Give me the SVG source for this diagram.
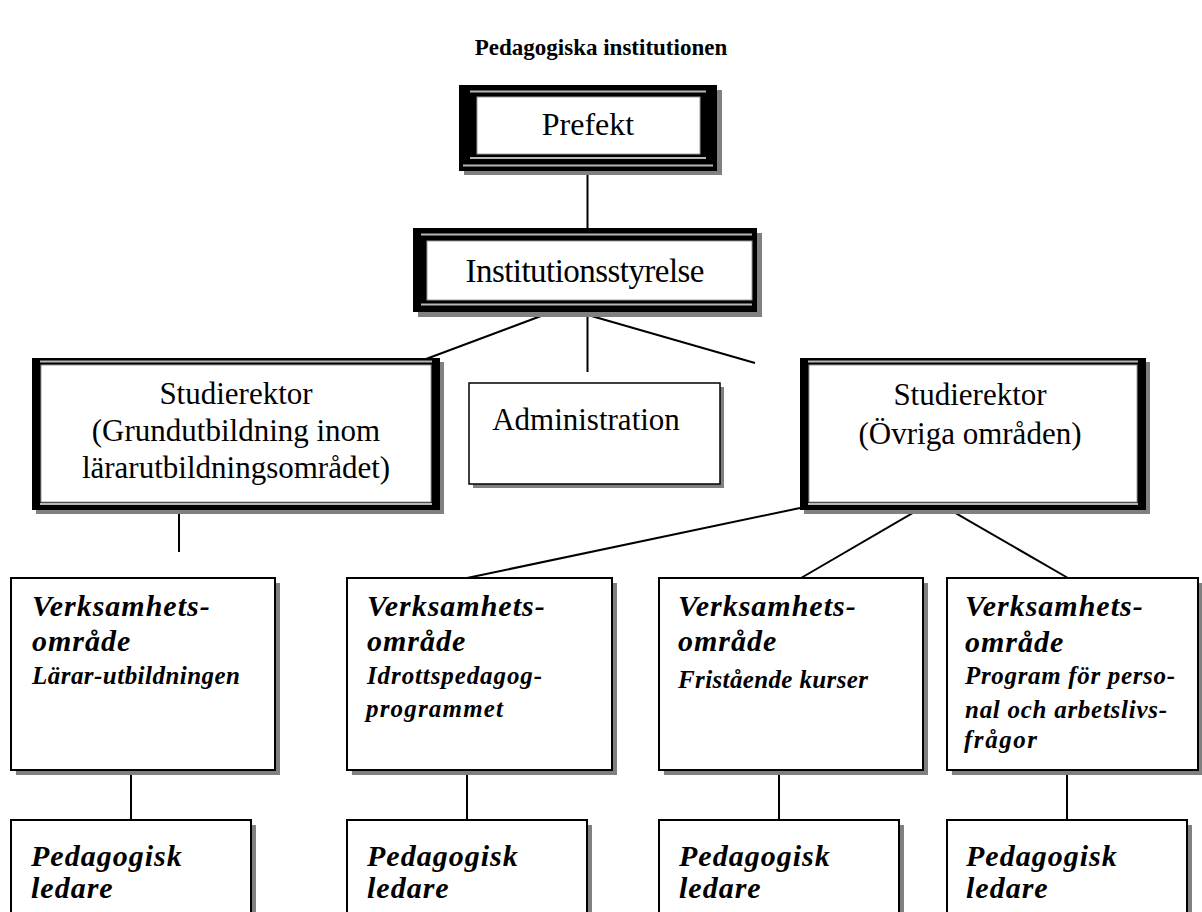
<svg xmlns="http://www.w3.org/2000/svg" width="1202" height="912" viewBox="0 0 1202 912">
  <style>
    .serif { font-family: "Liberation Serif", "Times New Roman", serif; fill: #000; }
    .title { font-size: 23px; font-weight: bold; }
    .reg { font-size: 31px; }
    .head { font-size: 30px; font-weight: bold; font-style: italic; letter-spacing: 1px; }
    .sub { font-size: 25px; font-weight: bold; font-style: italic; }
    .shadow { fill: #808080; }
    .frame { fill: #000; }
    .inner { fill: #fff; stroke: #9a9a9a; stroke-width: 1; }
    .rule { stroke: #b8b8b8; stroke-width: 2; }
    .box { fill: #fff; stroke: #000; stroke-width: 2; }
    .plain { fill: #fff; stroke: #000; stroke-width: 1.5; }
    .conn line { stroke: #000; stroke-width: 2; }
  </style>

  <text class="serif title" x="601" y="55" text-anchor="middle">Pedagogiska institutionen</text>

  <!-- connectors -->
  <g id="connectors" class="conn">
    <line x1="587.5" y1="171" x2="587.5" y2="228"/>
    <line x1="549" y1="313" x2="418" y2="362"/>
    <line x1="587.5" y1="313" x2="587.5" y2="372"/>
    <line x1="588" y1="315" x2="755" y2="363"/>
    <line x1="179" y1="510" x2="179" y2="552"/>
    <line x1="800" y1="508" x2="467" y2="578"/>
    <line x1="923" y1="507" x2="801" y2="578"/>
    <line x1="945" y1="507" x2="1068" y2="578"/>
    <line x1="131" y1="770" x2="131" y2="820"/>
    <line x1="467" y1="770" x2="467" y2="820"/>
    <line x1="779" y1="770" x2="779" y2="820"/>
    <line x1="1067" y1="770" x2="1067" y2="820"/>
  </g>

  <!-- Prefekt -->
  <g id="prefekt">
    <rect class="shadow" x="464" y="90" width="258" height="85"/>
    <rect class="frame" x="459" y="85" width="258" height="86"/>
    <rect class="inner" x="477" y="97" width="223" height="57"/>
    <line class="rule" x1="470" y1="91.5" x2="706" y2="91.5"/>
    <line class="rule" x1="470" y1="158" x2="706" y2="158"/>
    <line class="rule" x1="463" y1="165.5" x2="713" y2="165.5"/>
    <text class="serif" font-size="32" x="588" y="135" text-anchor="middle">Prefekt</text>
  </g>

  <!-- Institutionsstyrelse -->
  <g id="institutionsstyrelse">
    <rect class="shadow" x="418" y="233" width="344" height="84"/>
    <rect class="frame" x="413" y="228" width="344" height="84"/>
    <rect class="inner" x="427" y="241" width="325" height="59"/>
    <line class="rule" x1="421" y1="234.5" x2="752" y2="234.5"/>
    <line class="rule" x1="421" y1="304.5" x2="752" y2="304.5"/>
    <text class="serif" font-size="33" x="585" y="282" text-anchor="middle" textLength="239" lengthAdjust="spacing">Institutionsstyrelse</text>
  </g>

  <!-- Studierektor, grundutbildning -->
  <g id="studierektor-grund">
    <rect class="shadow" x="36" y="362" width="408" height="152"/>
    <rect class="frame" x="32" y="358" width="408" height="152"/>
    <rect class="inner" x="41" y="365" width="390" height="137"/>
    <line class="rule" x1="40" y1="361.5" x2="432" y2="361.5"/>
    <line class="rule" x1="40" y1="504" x2="432" y2="504"/>
    <text class="serif reg" x="236" y="404" text-anchor="middle">Studierektor</text>
    <text class="serif reg" x="236" y="441" text-anchor="middle">(Grundutbildning inom</text>
    <text class="serif reg" x="236" y="478" text-anchor="middle">lärarutbildningsområdet)</text>
  </g>

  <!-- Administration -->
  <g id="administration">
    <rect class="shadow" x="473" y="387" width="251" height="101"/>
    <rect class="plain" x="469" y="383" width="251" height="101"/>
    <text class="serif reg" x="586" y="430" text-anchor="middle">Administration</text>
  </g>

  <!-- Studierektor, övriga områden -->
  <g id="studierektor-ovriga">
    <rect class="shadow" x="804" y="362" width="346" height="152"/>
    <rect class="frame" x="800" y="358" width="346" height="152"/>
    <rect class="inner" x="809" y="365" width="328" height="137"/>
    <line class="rule" x1="808" y1="361.5" x2="1138" y2="361.5"/>
    <line class="rule" x1="808" y1="504" x2="1138" y2="504"/>
    <text class="serif reg" x="970" y="405" text-anchor="middle">Studierektor</text>
    <text class="serif reg" x="970" y="444" text-anchor="middle">(Övriga områden)</text>
  </g>

  <!-- Verksamhetsområden -->
  <g id="vo-lararutbildningen">
    <rect class="shadow" x="16" y="583" width="264" height="192"/>
    <rect class="box" x="11" y="578" width="264" height="192"/>
    <text class="serif head" x="32" y="616">Verksamhets-</text>
    <text class="serif head" x="32" y="651">område</text>
    <text class="serif sub" x="32" y="684" textLength="208" lengthAdjust="spacing">Lärar-utbildningen</text>
  </g>

  <g id="vo-idrottspedagog">
    <rect class="shadow" x="352" y="583" width="265" height="192"/>
    <rect class="box" x="347" y="578" width="265" height="192"/>
    <text class="serif head" x="367" y="616">Verksamhets-</text>
    <text class="serif head" x="367" y="651">område</text>
    <text class="serif sub" x="367" y="684" textLength="175" lengthAdjust="spacing">Idrottspedagog-</text>
    <text class="serif sub" x="366" y="717" textLength="137" lengthAdjust="spacing">programmet</text>
  </g>

  <g id="vo-fristaende">
    <rect class="shadow" x="664" y="583" width="264" height="192"/>
    <rect class="box" x="659" y="578" width="264" height="192"/>
    <text class="serif head" x="678" y="616">Verksamhets-</text>
    <text class="serif head" x="678" y="651">område</text>
    <text class="serif sub" x="678" y="688" textLength="190" lengthAdjust="spacing">Fristående kurser</text>
  </g>

  <g id="vo-personal">
    <rect class="shadow" x="952" y="583" width="251" height="192"/>
    <rect class="box" x="947" y="578" width="251" height="192"/>
    <text class="serif head" x="965" y="616">Verksamhets-</text>
    <text class="serif head" x="965" y="652">område</text>
    <text class="serif sub" x="965" y="684" textLength="210" lengthAdjust="spacing">Program för perso-</text>
    <text class="serif sub" x="965" y="718" textLength="202" lengthAdjust="spacing">nal och arbetslivs-</text>
    <text class="serif sub" x="964" y="748" textLength="73" lengthAdjust="spacing">frågor</text>
  </g>

  <!-- Pedagogiska ledare -->
  <g id="pl-1">
    <rect class="shadow" x="16" y="825" width="240" height="100"/>
    <rect class="box" x="11" y="820" width="240" height="100"/>
    <text class="serif head" x="31" y="866" letter-spacing="0.5">Pedagogisk</text>
    <text class="serif head" x="31" y="898" letter-spacing="0.5">ledare</text>
  </g>
  <g id="pl-2">
    <rect class="shadow" x="352" y="825" width="240" height="100"/>
    <rect class="box" x="347" y="820" width="240" height="100"/>
    <text class="serif head" x="367" y="866" letter-spacing="0.5">Pedagogisk</text>
    <text class="serif head" x="367" y="898" letter-spacing="0.5">ledare</text>
  </g>
  <g id="pl-3">
    <rect class="shadow" x="664" y="825" width="240" height="100"/>
    <rect class="box" x="659" y="820" width="240" height="100"/>
    <text class="serif head" x="679" y="866" letter-spacing="0.5">Pedagogisk</text>
    <text class="serif head" x="679" y="898" letter-spacing="0.5">ledare</text>
  </g>
  <g id="pl-4">
    <rect class="shadow" x="952" y="825" width="240" height="100"/>
    <rect class="box" x="947" y="820" width="240" height="100"/>
    <text class="serif head" x="966" y="866" letter-spacing="0.5">Pedagogisk</text>
    <text class="serif head" x="966" y="898" letter-spacing="0.5">ledare</text>
  </g>
</svg>
